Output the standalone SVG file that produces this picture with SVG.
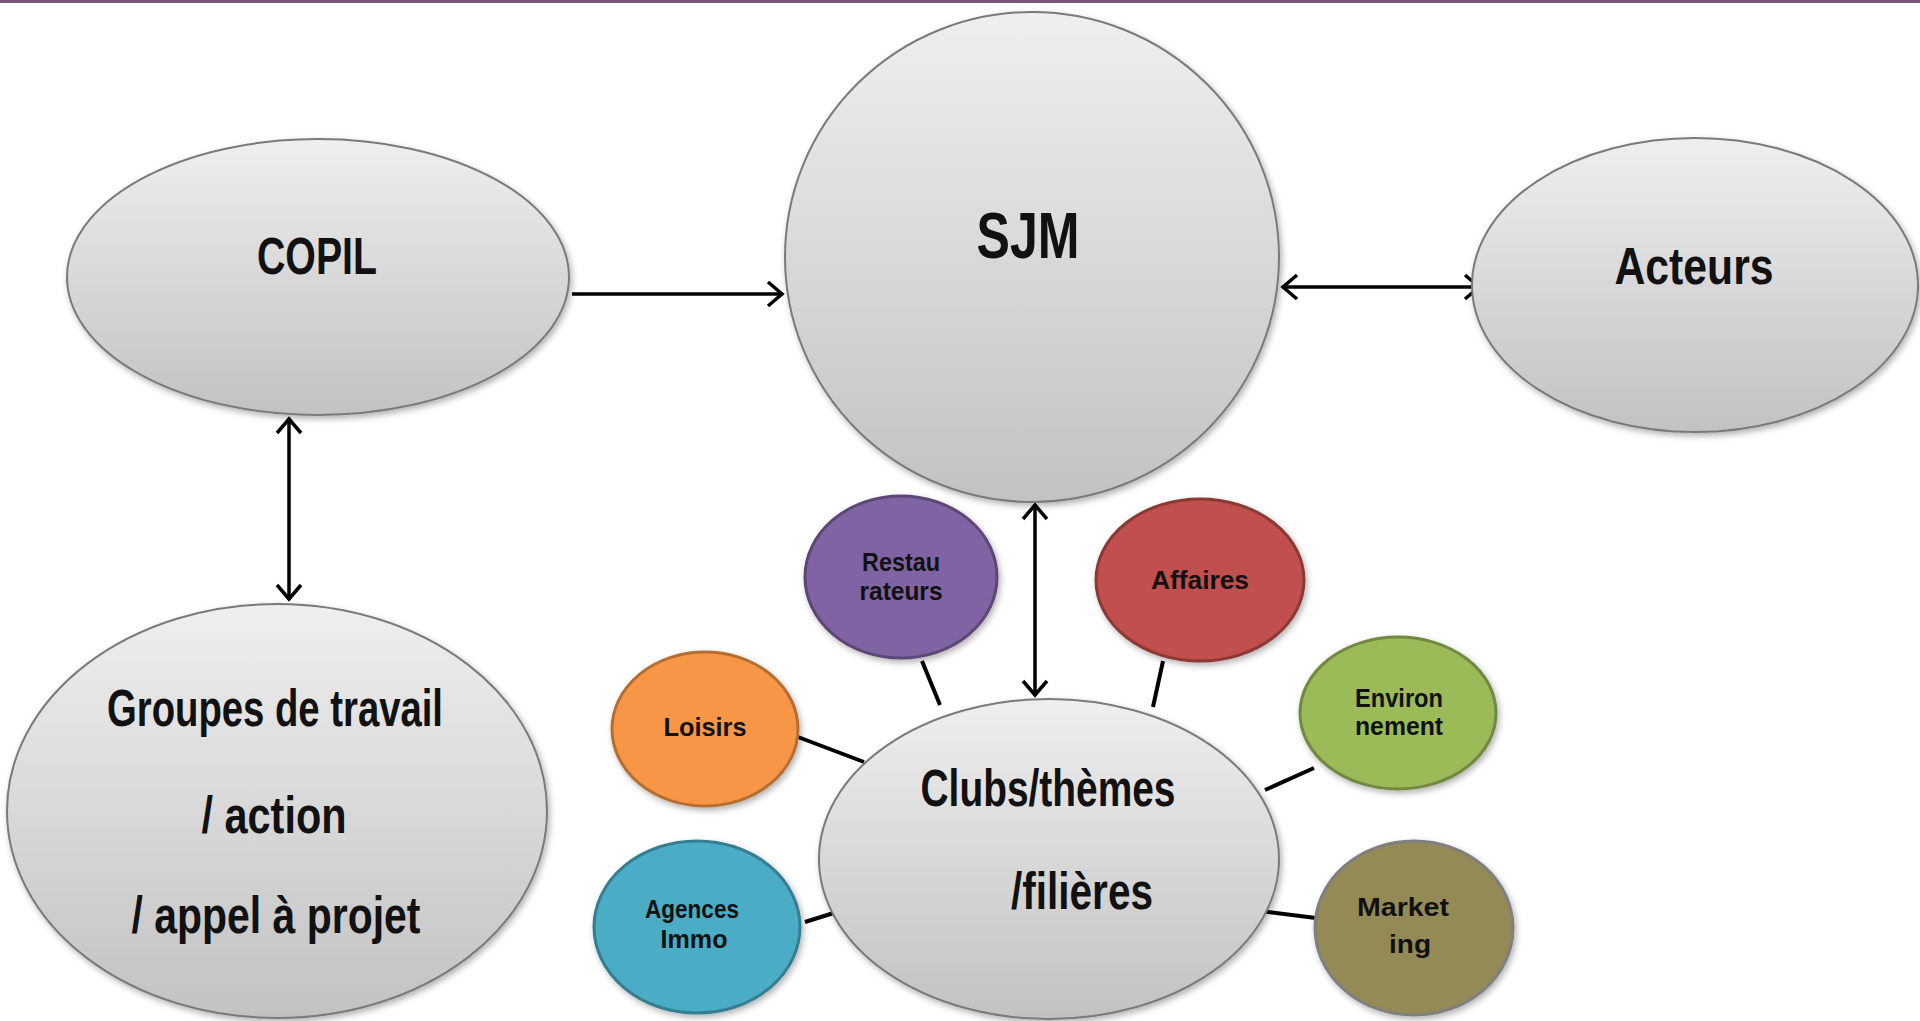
<svg xmlns="http://www.w3.org/2000/svg" width="1920" height="1021" viewBox="0 0 1920 1021">
<defs>
<linearGradient id="gray" x1="0" y1="0" x2="0" y2="1">
<stop offset="0" stop-color="#efefef"/>
<stop offset="1" stop-color="#c2c2c2"/>
</linearGradient>
<filter id="sh" x="-10%" y="-10%" width="125%" height="125%">
<feDropShadow dx="2" dy="3" stdDeviation="3" flood-color="#000" flood-opacity="0.3"/>
</filter>
<marker id="arr" viewBox="0 0 20 28" refX="18" refY="14" markerWidth="20" markerHeight="28" markerUnits="userSpaceOnUse" orient="auto-start-reverse">
<path d="M3,2 L17,14 L3,26" fill="none" stroke="#000" stroke-width="3.5"/>
</marker>
<style>
.g{fill:url(#gray);stroke:#7a7a7a;stroke-width:2;filter:url(#sh)}
.c{stroke-width:3;filter:url(#sh)}
.t{font-family:"Liberation Sans Narrow","Liberation Sans",Arial,sans-serif;font-weight:bold;fill:#111;text-anchor:middle}
.big{font-size:52px}
.sm{font-size:25px}
.ln{stroke:#000;stroke-width:4;fill:none}
.ar{stroke:#000;stroke-width:3.5;fill:none}
</style>
</defs>
<rect x="0" y="0" width="1920" height="1021" fill="#fff"/>
<rect x="0" y="0" width="1920" height="3" fill="#7b5479"/>
<g id="connectors">
<line class="ar" x1="572" y1="294" x2="783" y2="294" marker-end="url(#arr)"/>
<line class="ar" x1="1282" y1="287" x2="1480" y2="287" marker-start="url(#arr)" marker-end="url(#arr)"/>
<line class="ar" x1="289" y1="418" x2="289" y2="600" marker-start="url(#arr)" marker-end="url(#arr)"/>
<line class="ar" x1="1035" y1="504" x2="1035" y2="696" marker-start="url(#arr)" marker-end="url(#arr)"/>
<line class="ln" x1="922" y1="661" x2="940" y2="705"/>
<line class="ln" x1="1163" y1="661" x2="1153" y2="707"/>
<line class="ln" x1="798" y1="737" x2="864" y2="762"/>
<line class="ln" x1="1314" y1="768" x2="1265" y2="790"/>
<line class="ln" x1="805" y1="922" x2="840" y2="911"/>
<line class="ln" x1="1261" y1="911" x2="1316" y2="918"/>
</g>
<g id="copil">
<ellipse class="g" cx="318" cy="277" rx="251" ry="138"/>
<text class="t big" x="317" y="274" textLength="120" lengthAdjust="spacingAndGlyphs">COPIL</text>
</g>
<g id="sjm">
<ellipse class="g" cx="1032" cy="257" rx="247" ry="245"/>
<text class="t" font-size="64" x="1028" y="258" textLength="103" lengthAdjust="spacingAndGlyphs">SJM</text>
</g>
<g id="acteurs">
<ellipse class="g" cx="1695" cy="285" rx="223" ry="147"/>
<text class="t big" x="1694" y="284" textLength="159" lengthAdjust="spacingAndGlyphs">Acteurs</text>
</g>
<g id="groupes">
<ellipse class="g" cx="277" cy="811" rx="270" ry="207"/>
<text class="t big" x="275" y="726" textLength="336" lengthAdjust="spacingAndGlyphs">Groupes de travail</text>
<text class="t big" x="274" y="833" textLength="145" lengthAdjust="spacingAndGlyphs">/ action</text>
<text class="t big" x="276" y="933" textLength="289" lengthAdjust="spacingAndGlyphs">/ appel à projet</text>
</g>
<g id="clubs">
<ellipse class="g" cx="1049" cy="859" rx="230" ry="160"/>
<text class="t big" x="1048" y="806" textLength="255" lengthAdjust="spacingAndGlyphs">Clubs/thèmes</text>
<text class="t big" x="1082" y="909" textLength="142" lengthAdjust="spacingAndGlyphs">/filières</text>
</g>
<g id="restaurateurs">
<ellipse class="c" cx="901" cy="577" rx="96" ry="81" fill="#8064a2" stroke="#5c4776"/>
<text class="t sm" x="901" y="571" textLength="78" lengthAdjust="spacingAndGlyphs">Restau</text>
<text class="t sm" x="901" y="600" textLength="83" lengthAdjust="spacingAndGlyphs">rateurs</text>
</g>
<g id="affaires">
<ellipse class="c" cx="1200" cy="580" rx="104" ry="81" fill="#c0504d" stroke="#8c3836"/>
<text class="t sm" x="1200" y="589" textLength="98" lengthAdjust="spacingAndGlyphs">Affaires</text>
</g>
<g id="loisirs">
<ellipse class="c" cx="705" cy="729" rx="93" ry="77" fill="#f79646" stroke="#b66d31"/>
<text class="t sm" x="705" y="736" textLength="83" lengthAdjust="spacingAndGlyphs">Loisirs</text>
</g>
<g id="environnement">
<ellipse class="c" cx="1398" cy="713" rx="98" ry="76" fill="#9bbb59" stroke="#71893f"/>
<text class="t sm" x="1399" y="707" textLength="88" lengthAdjust="spacingAndGlyphs">Environ</text>
<text class="t sm" x="1399" y="735" textLength="88" lengthAdjust="spacingAndGlyphs">nement</text>
</g>
<g id="agences">
<ellipse class="c" cx="697" cy="927" rx="103" ry="86" fill="#4bacc6" stroke="#357d91"/>
<text class="t sm" x="692" y="918" textLength="94" lengthAdjust="spacingAndGlyphs">Agences</text>
<text class="t sm" x="694" y="948" textLength="67" lengthAdjust="spacingAndGlyphs">Immo</text>
</g>
<g id="marketing">
<ellipse class="c" cx="1414" cy="928" rx="99" ry="87" fill="#948a54" stroke="#7f7f7f"/>
<text class="t sm" x="1403" y="916" textLength="92" lengthAdjust="spacingAndGlyphs">Market</text>
<text class="t sm" x="1410" y="953" textLength="42" lengthAdjust="spacingAndGlyphs">ing</text>
</g>
</svg>
